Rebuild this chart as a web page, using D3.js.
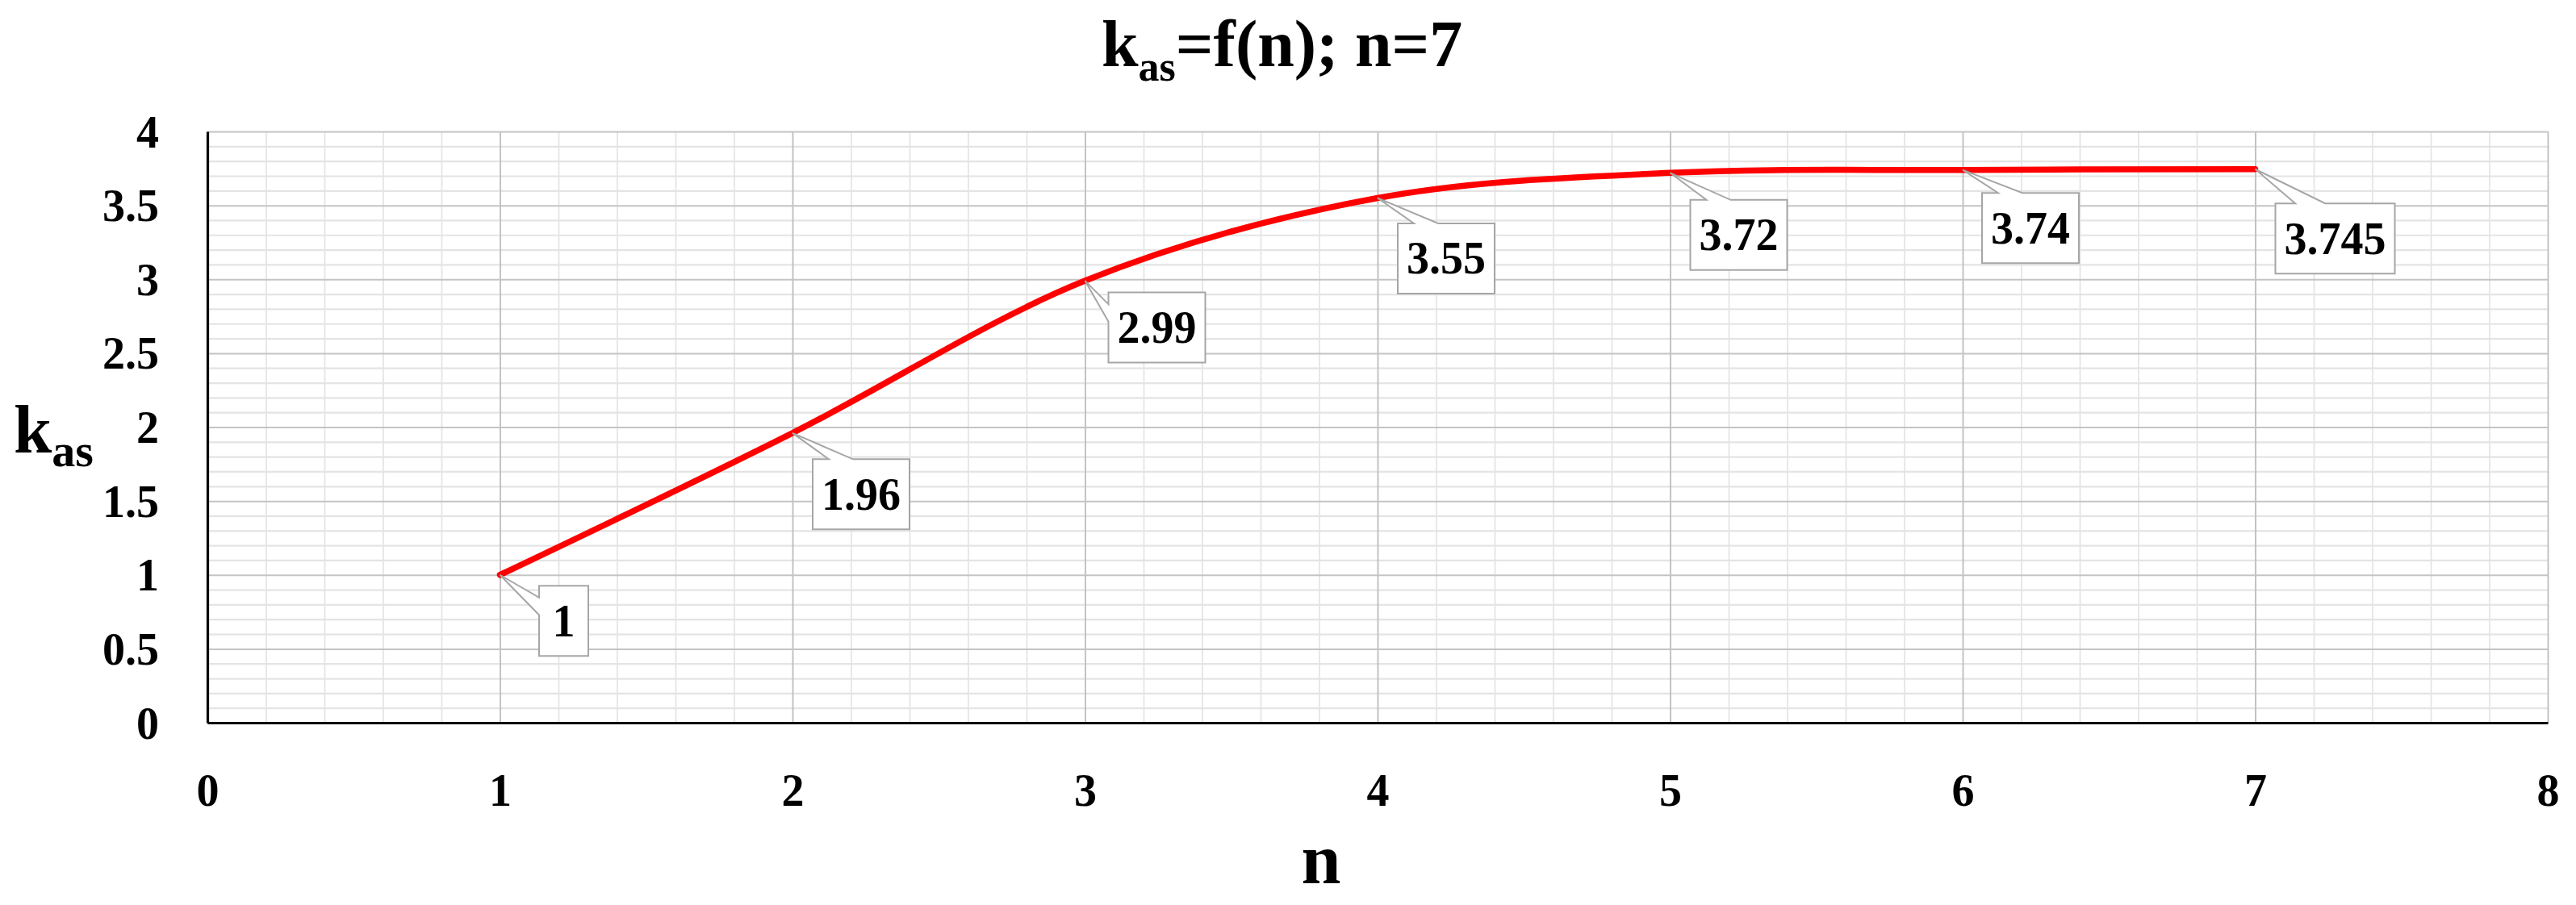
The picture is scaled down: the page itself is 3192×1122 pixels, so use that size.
<!DOCTYPE html>
<html>
<head>
<meta charset="utf-8">
<script src="https://cdn.jsdelivr.net/npm/d3@7"></script>
<style>
  html, body { margin: 0; padding: 0; background: #fff; }
  svg { display: block; }
  text { font-family: "Liberation Serif", "Times New Roman", serif; font-weight: bold; fill: #000; }
</style>
</head>
<body>
<svg id="chart" width="3192" height="1122"></svg>
<script>
// ---- data ----
const nValues   = [1, 2, 3, 4, 5, 6, 7];
const kasValues = [1, 1.96, 2.99, 3.55, 3.72, 3.74, 3.745];
const labelTexts = ["1", "1.96", "2.99", "3.55", "3.72", "3.74", "3.745"];
const xTickValues = [0, 1, 2, 3, 4, 5, 6, 7, 8];
const xTickLabels = ["0", "1", "2", "3", "4", "5", "6", "7", "8"];
const yTickValues = [0, 0.5, 1, 1.5, 2, 2.5, 3, 3.5, 4];
const yTickLabels = ["0", "0.5", "1", "1.5", "2", "2.5", "3", "3.5", "4"];

(function () {
// ---- layout ----
const W = 3192, H = 1122;
const pLeft = 257, pRight = 3157, pTop = 163, pBottom = 896;
// callout box centre offsets from each point (px)
const labelOffsets = [[79, 57], [85, 76], [89, 58], [85, 75], [85, 77], [84, 72], [99, 86]];

const svg = d3.select("#chart");
svg.append("rect").attr("width", W).attr("height", H).attr("fill", "#fff");

const x = d3.scaleLinear().domain([0, 8]).range([pLeft, pRight]);
const y = d3.scaleLinear().domain([0, 4]).range([pBottom, pTop]);

// ---- gridlines ----
const minorX = d3.range(0, 40).map(i => i / 5).filter(v => Math.abs(v - Math.round(v)) > 1e-6);
const minorY = d3.range(0, 41).map(i => i / 10).filter(v => Math.abs(v * 2 - Math.round(v * 2)) > 1e-6);

function grid(g, axis, color, width) {
  g.call(axis);
  g.select(".domain").remove();
  g.selectAll(".tick line").attr("stroke", color).attr("stroke-width", width);
  g.selectAll(".tick text").remove();
}

svg.append("g").attr("transform", `translate(0,${pBottom})`)
  .call(g => grid(g, d3.axisBottom(x).tickValues(minorX).tickSize(-(pBottom - pTop)).tickFormat(""), "#e2e2e2", 1.6));
svg.append("g").attr("transform", `translate(${pLeft},0)`)
  .call(g => grid(g, d3.axisLeft(y).tickValues(minorY).tickSize(-(pRight - pLeft)).tickFormat(""), "#e4e4e4", 2.2));
svg.append("g").attr("transform", `translate(0,${pBottom})`)
  .call(g => grid(g, d3.axisBottom(x).tickValues(xTickValues).tickSize(-(pBottom - pTop)).tickFormat(""), "#bdbdbd", 1.8));
svg.append("g").attr("transform", `translate(${pLeft},0)`)
  .call(g => grid(g, d3.axisLeft(y).tickValues(yTickValues).tickSize(-(pRight - pLeft)).tickFormat(""), "#c4c4c4", 2));

// ---- axes ----
const xAxis = svg.append("g").attr("transform", `translate(0,${pBottom})`)
  .call(d3.axisBottom(x).tickValues(xTickValues).tickSize(0).tickPadding(0)
    .tickFormat((d, i) => xTickLabels[i]));
xAxis.select(".domain").attr("stroke", "#000").attr("stroke-width", 3.2);
xAxis.selectAll(".tick text").attr("font-size", 56).attr("dy", null).attr("y", 103)
  .attr("font-family", "Liberation Serif, serif").attr("font-weight", "bold").attr("fill", "#000");

const yAxis = svg.append("g").attr("transform", `translate(${pLeft},0)`)
  .call(d3.axisLeft(y).tickValues(yTickValues).tickSize(0).tickPadding(60)
    .tickFormat((d, i) => yTickLabels[i]));
yAxis.select(".domain").attr("stroke", "#000").attr("stroke-width", 3.2);
yAxis.selectAll(".tick text").attr("font-size", 56).attr("dy", "0.34em")
  .attr("font-family", "Liberation Serif, serif").attr("font-weight", "bold").attr("fill", "#000");

// ---- line ----
const pts = nValues.map((n, i) => ({ n, k: kasValues[i], label: labelTexts[i], off: labelOffsets[i] }));
const line = d3.line().x(d => x(d.n)).y(d => y(d.k)).curve(d3.curveCatmullRom.alpha(0));
svg.append("path").datum(pts).attr("d", line)
  .attr("fill", "none").attr("stroke", "#ff0000").attr("stroke-width", 7.5)
  .attr("stroke-linecap", "round").attr("stroke-linejoin", "round");

// ---- callout labels (wedgeRectCallout) ----
function calloutPath(bx, by, w, h, px, py) {
  const dx = px - (bx + w / 2), dy = py - (by + h / 2);
  const dq = dx * h / w;
  const x1 = w * (dx > 0 ? 7 : 2) / 12, x2 = w * (dx > 0 ? 10 : 5) / 12;
  const y1 = h * (dy > 0 ? 7 : 2) / 12, y2 = h * (dy > 0 ? 10 : 5) / 12;
  const p = [];
  if (Math.abs(dy) > Math.abs(dq)) {
    if (dy < 0) {
      p.push([bx, by], [bx + x1, by], [px, py], [bx + x2, by], [bx + w, by], [bx + w, by + h], [bx, by + h]);
    } else {
      p.push([bx, by], [bx + w, by], [bx + w, by + h], [bx + x2, by + h], [px, py], [bx + x1, by + h], [bx, by + h]);
    }
  } else {
    if (dx < 0) {
      p.push([bx, by], [bx + w, by], [bx + w, by + h], [bx, by + h], [bx, by + y2], [px, py], [bx, by + y1]);
    } else {
      p.push([bx, by], [bx + w, by], [bx + w, by + y1], [px, py], [bx + w, by + y2], [bx + w, by + h], [bx, by + h]);
    }
  }
  return "M" + p.map(q => q.join(",")).join("L") + "Z";
}

const lab = svg.append("g");
pts.forEach(d => {
  const px = x(d.n), py = y(d.k);
  const cx = px + d.off[0], cy = py + d.off[1];
  const g = lab.append("g");
  const path = g.append("path");
  const t = g.append("text").attr("x", cx).attr("y", cy + 19).attr("text-anchor", "middle")
    .attr("font-size", 56).text(d.label);
  const tw = t.node().getComputedTextLength();
  const w = Math.max(tw + 22, 61), h = 87;
  path.attr("d", calloutPath(cx - w / 2, cy - h / 2, w, h, px, py))
    .attr("fill", "#fff").attr("stroke", "#a6a6a6").attr("stroke-width", 2);
});

// ---- titles ----
const title = svg.append("text").attr("x", 1365).attr("y", 82).attr("font-size", 82);
title.append("tspan").text("k");
title.append("tspan").attr("font-size", 52).attr("dy", 18).text("as");
title.append("tspan").attr("dy", -18).text("=f(n); n=7");

const yTitle = svg.append("text").attr("x", 17).attr("y", 561).attr("font-size", 85);
yTitle.append("tspan").text("k");
yTitle.append("tspan").attr("font-size", 58).attr("dy", 17).text("as");

svg.append("text").attr("x", 1637).attr("y", 1095).attr("text-anchor", "middle")
  .attr("font-size", 88).text("n");
})();
</script>
</body>
</html>
